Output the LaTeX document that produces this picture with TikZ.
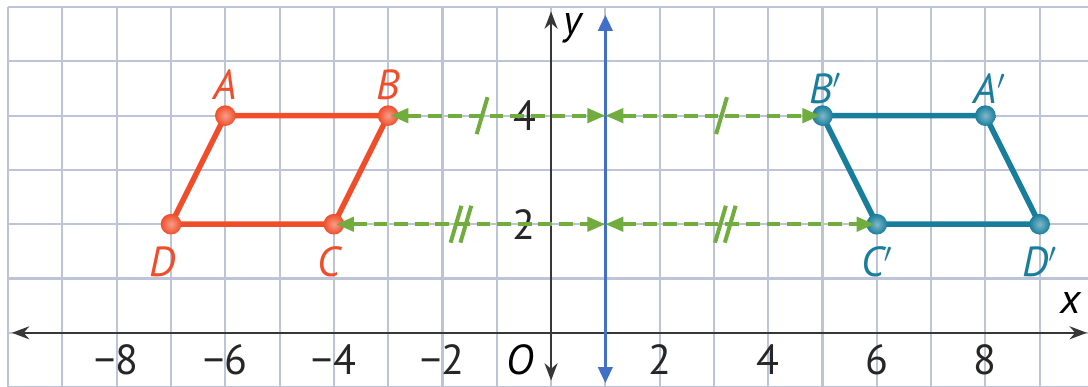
\documentclass[tikz,border=0pt]{standalone}
\usepackage{fontspec}
\setmainfont{PT Sans}
\usetikzlibrary{arrows.meta}
\definecolor{gridc}{RGB}{190,196,216}
\definecolor{redc}{RGB}{240,78,42}
\definecolor{tealc}{RGB}{24,126,156}
\definecolor{bluec}{RGB}{66,112,200}
\definecolor{greenc}{RGB}{112,173,62}
\definecolor{axisc}{RGB}{55,55,55}
\tikzset{
  numlbl/.style={font=\fontsize{22}{24}\selectfont, text=black!85, inner sep=0pt, text depth=0pt},
  ptlbl/.style={font=\fontsize{22}{24}\selectfont\itshape, inner sep=0pt},
  axisline/.style={axisc, line width=1.1pt},
  mirrorline/.style={bluec, line width=1.9pt, {Triangle[length=0.3cm,width=0.26cm]}-{Triangle[length=0.3cm,width=0.26cm]}},
  distarrow/.style={greenc, line width=2.1pt, dash pattern=on 7.2pt off 3.6pt,
    {Triangle[length=0.33cm,width=0.26cm]}-{Triangle[length=0.33cm,width=0.26cm]}},
  tickmark/.style={greenc, line width=2.1pt},
  redpoly/.style={redc, line width=2.9pt, line join=round},
  tealpoly/.style={tealc, line width=2.9pt, line join=round},
  reddot/.style={circle, minimum size=0.38cm, inner sep=0pt, inner color=redc!55!white, outer color=redc},
  tealdot/.style={circle, minimum size=0.38cm, inner sep=0pt, inner color=tealc!55!white, outer color=tealc},
}
\begin{document}
\begin{tikzpicture}[x=1cm,y=1cm]
\useasboundingbox (-10.15,-0.99) rectangle (9.89,6.13);
\clip (-10.15,-0.99) rectangle (9.89,6.13);
\fill[white] (-10.15,-0.99) rectangle (9.89,6.13);
% grid
\draw[gridc, line width=1.1pt] (-10,-1.5) grid (10.5,6);
% axes
\coordinate (xl) at (-9.93,0);
\coordinate (xr) at (9.87,0);
\coordinate (yb) at (0,-0.88);
\coordinate (yt) at (0,5.92);
\draw[axisline, {Stealth[length=0.32cm,width=0.24cm]}-{Stealth[length=0.32cm,width=0.24cm]}] (xl) -- (xr);
\draw[axisline, {Stealth[length=0.32cm,width=0.24cm]}-{Stealth[length=0.32cm,width=0.24cm]}] (yb) -- (yt);
\node[ptlbl] (xlab) at (9.57,0.55) {x};
\node[ptlbl] (ylab) at (0.4,5.6) {y};
\node[ptlbl, text depth=0pt] (olab) at (-0.57,-0.49) {O};
% tick labels
\foreach \v/\t in {-8/{−8},-6/{−6},-4/{−4},-2/{−2},2/2,4/4,6/6,8/8}{
  \node[numlbl] (n\v) at (\v,-0.5) {\t};
}
\node[numlbl] (ny4) at (-0.48,4) {4};
\node[numlbl] (ny2) at (-0.5,2) {2};
% mirror line
\coordinate (mb) at (1,-0.93);
\coordinate (mt) at (1,5.86);
\draw[mirrorline] (mb) -- (mt);
% polygons
\coordinate (A) at (-6,4);
\coordinate (B) at (-3,4);
\coordinate (C) at (-4,2);
\coordinate (D) at (-7,2);
\coordinate (A') at (8,4);
\coordinate (B') at (5,4);
\coordinate (C') at (6,2);
\coordinate (D') at (9,2);
\draw[redpoly] (A) -- (B) -- (C) -- (D) -- cycle;
\draw[tealpoly] (B') -- (A') -- (D') -- (C') -- cycle;
\foreach \p in {A,B,C,D}{\node[reddot] (dot\p) at (\p) {};}
\foreach \p in {A',B',C',D'}{\node[tealdot] (dot\p) at (\p) {};}
% point labels
\node[ptlbl, text=redc] (lA) at (-6,4.57) {A};
\node[ptlbl, text=redc] (lB) at (-3,4.57) {B};
\node[ptlbl, text=redc] (lC) at (-4.1,1.3) {C};
\node[ptlbl, text=redc] (lD) at (-7.15,1.3) {D};
\node[ptlbl, text=tealc] (lB') at (5.05,4.5) {B$'$};
\node[ptlbl, text=tealc] (lA') at (8.08,4.5) {A$'$};
\node[ptlbl, text=tealc] (lC') at (6.0,1.3) {C$'$};
\node[ptlbl, text=tealc] (lD') at (9.0,1.3) {D$'$};
% distance arrows
\coordinate (M1) at (1,4);
\coordinate (M2) at (1,2);
\draw[distarrow, shorten <=0.04cm] (B) -- (M1);
\draw[distarrow, shorten >=0.04cm] (M1) -- (B');
\draw[distarrow, shorten <=0.04cm] (C) -- (M2);
\draw[distarrow, shorten >=0.04cm] (M2) -- (C');
% congruence marks
\draw[tickmark] (-1.37,3.66) -- (-1.17,4.34);
\draw[tickmark] (3.04,3.66) -- (3.24,4.34);
\draw[tickmark] (-1.85,1.66) -- (-1.65,2.34);
\draw[tickmark] (-1.67,1.66) -- (-1.47,2.34);
\draw[tickmark] (3.02,1.66) -- (3.22,2.34);
\draw[tickmark] (3.2,1.66) -- (3.4,2.34);
\end{tikzpicture}
\end{document}
